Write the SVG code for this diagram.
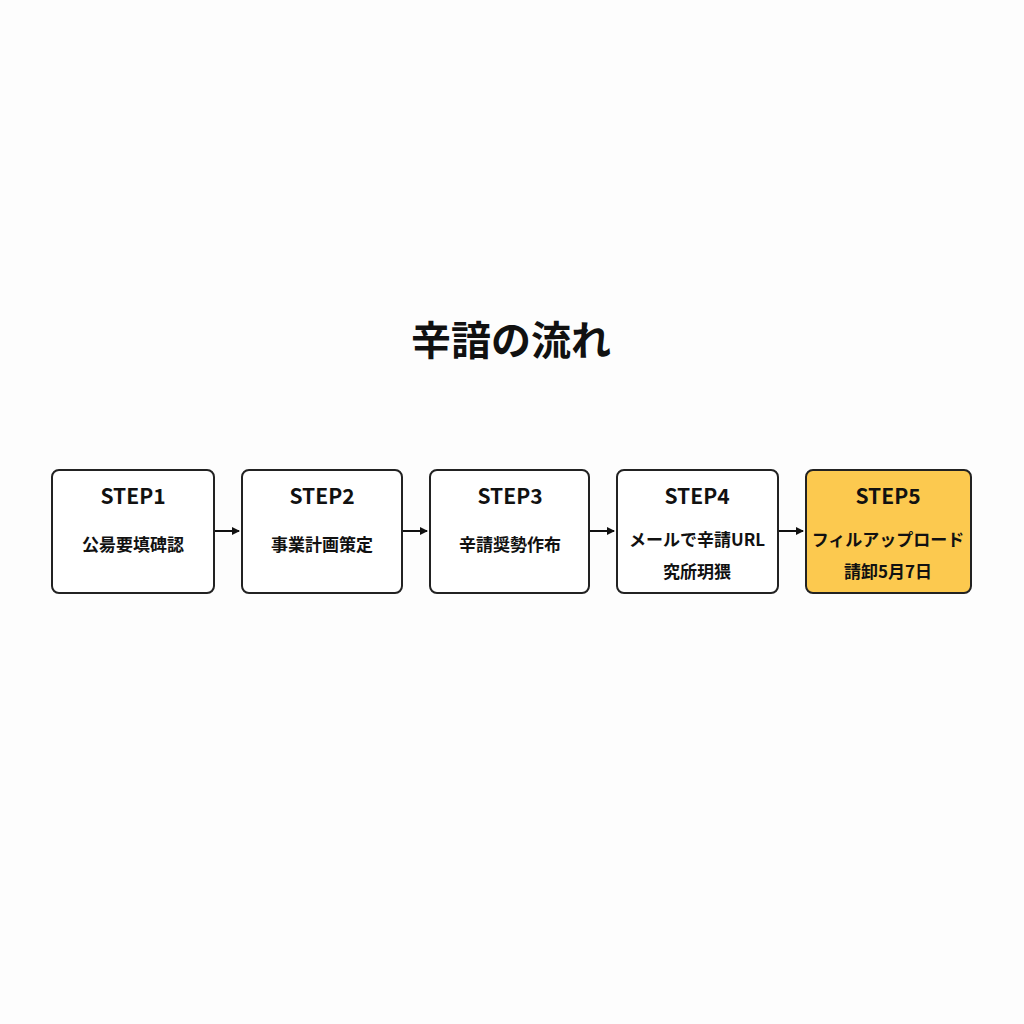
<svg xmlns="http://www.w3.org/2000/svg" width="1024" height="1024" viewBox="0 0 1024 1024">
<defs><marker id="ah" markerWidth="8" markerHeight="8" refX="7" refY="4" orient="auto" markerUnits="userSpaceOnUse"><path d="M0,0 L8,4 L0,8 z" fill="#111"/></marker></defs>
<style>
text{font-family:"Noto Sans CJK JP","Noto Sans",sans-serif;font-weight:bold;fill:#111;text-anchor:middle}
.b{fill:#fff;stroke:#222;stroke-width:2}
.h{font-size:21px}.t{font-size:17px}
.c{stroke:#111;stroke-width:2;fill:none}
</style>
<rect width="1024" height="1024" fill="#fdfdfd"/>
<text x="511" y="355" style="font-size:40px">辛諳の流れ</text>
<g id="n1"><rect class="b" x="52" y="470" width="162" height="123" rx="7"/><text class="h" x="133" y="504">STEP1</text><text class="t" x="133" y="551">公昜要填碑認</text></g>
<g id="n2"><rect class="b" x="242" y="470" width="160" height="123" rx="7"/><text class="h" x="322" y="504">STEP2</text><text class="t" x="322" y="551">事業計画策定</text></g>
<g id="n3"><rect class="b" x="430" y="470" width="159" height="123" rx="7"/><text class="h" x="510" y="504">STEP3</text><text class="t" x="510" y="551">辛請奨勢作布</text></g>
<g id="n4"><rect class="b" x="617" y="470" width="161" height="123" rx="7"/><text class="h" x="697" y="504">STEP4</text><text class="t" x="697" y="546">メールで辛請URL</text><text class="t" x="697" y="578">究斦玥猥</text></g>
<g id="n5"><rect x="806" y="470" width="165" height="123" rx="7" fill="#fcc94f" stroke="#222" stroke-width="2"/><text class="h" x="888" y="504">STEP5</text><text class="t" x="888" y="546">フィルアップロード</text><text class="t" x="888" y="578">請卸5月7日</text></g>
<g id="connectors">
<path class="c" d="M215,531 H239" marker-end="url(#ah)"/>
<path class="c" d="M403,531 H427" marker-end="url(#ah)"/>
<path class="c" d="M590,531 H614" marker-end="url(#ah)"/>
<path class="c" d="M779,531 H803" marker-end="url(#ah)"/>
</g>
</svg>
